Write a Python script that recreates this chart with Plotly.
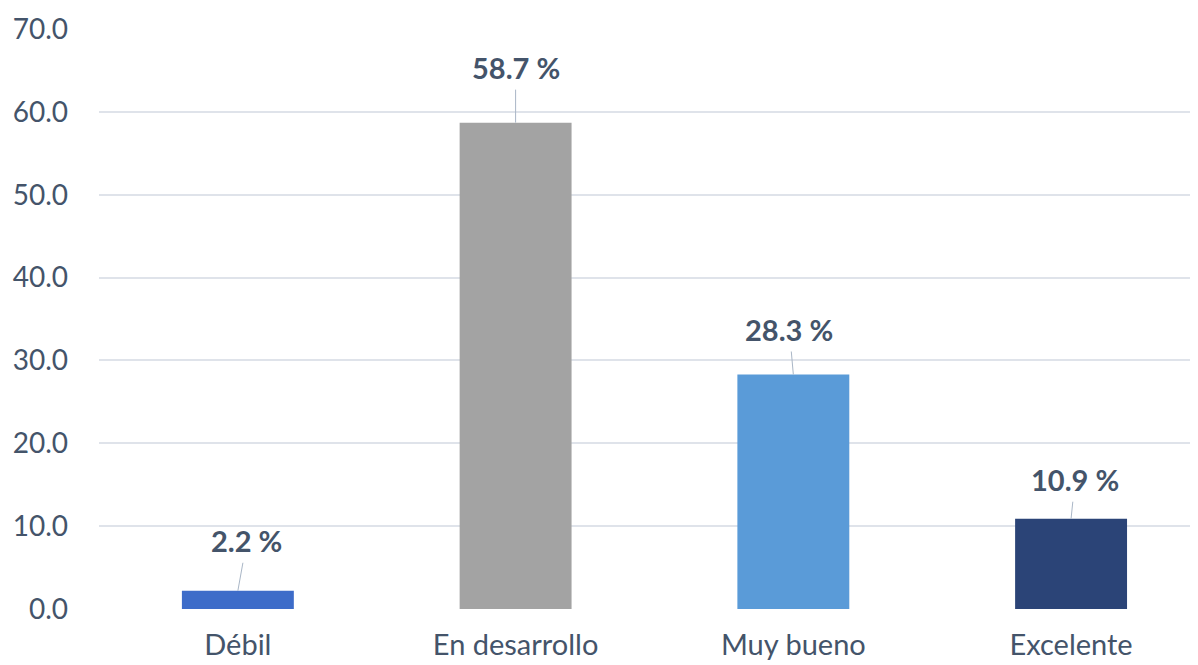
import plotly.graph_objects as go

categories = ["Débil", "En desarrollo", "Muy bueno", "Excelente"]
values = [2.2, 58.7, 28.3, 10.9]
bar_colors = ["#3d6cc9", "#a3a3a3", "#5a9bd8", "#2b4477"]
label_dx = [9, 0, -4, 4]
label_dy = [-50, -55, -45, -39]
y_ticks = [0, 10, 20, 30, 40, 50, 60, 70]

FONT = "Lato"
TEXT_COLOR = "#44546a"

fig = go.Figure()
fig.add_trace(go.Bar(
    x=categories, y=values,
    marker=dict(color=bar_colors, line=dict(width=0)),
    width=0.403,
    hoverinfo="x+y",
))

for c, v, dx, dy in zip(categories, values, label_dx, label_dy):
    fig.add_annotation(
        x=c, y=v, text=f"<b>{v:.1f} %</b>",
        showarrow=True, arrowhead=0, arrowwidth=1, arrowcolor="#a9b6c6",
        ax=dx, ay=dy, standoff=0, borderpad=4,
        font=dict(family=FONT, size=29, color=TEXT_COLOR),
    )

fig.update_layout(
    width=1190, height=657,
    margin=dict(l=91, r=0, t=21, b=56),
    plot_bgcolor="white", paper_bgcolor="white",
    showlegend=False,
    font=dict(family=FONT, size=28, color=TEXT_COLOR),
)
fig.update_yaxes(
    range=[0, 70], tickvals=y_ticks, ticktext=[f"{t:.1f}" for t in y_ticks],
    showgrid=True, gridcolor="#dfe3ea", gridwidth=2,
    zeroline=False, showline=False, ticks="", ticklabelstandoff=30,
    automargin=False,
    tickfont=dict(family=FONT, size=28, color=TEXT_COLOR),
)
fig.update_xaxes(
    range=[-0.5, 3.457],
    showgrid=False, showline=False, ticks="", ticklabelstandoff=16,
    automargin=False,
    tickfont=dict(family=FONT, size=29, color=TEXT_COLOR),
)

fig.write_html("out.html")
